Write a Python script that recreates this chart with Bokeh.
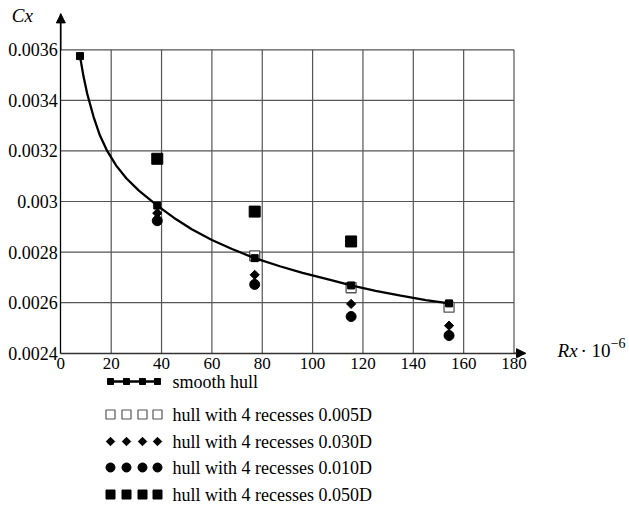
from bokeh.plotting import figure
from bokeh.models import (Range1d, FixedTicker, Arrow, NormalHead, Label,
                          LinearAxis)
from bokeh.embed import file_html
from bokeh.resources import INLINE
from bokeh.core.properties import value

# ---- data ----
x_ticks = [0, 20, 40, 60, 80, 100, 120, 140, 160, 180]
y_ticks = [0.0024, 0.0026, 0.0028, 0.003, 0.0032, 0.0034, 0.0036]
y_tick_labels = ["0.0024", "0.0026", "0.0028", "0.003", "0.0032", "0.0034", "0.0036"]

smooth_x = [7.6, 38.3, 77.0, 115.3, 154.2]
smooth_y = [0.003575, 0.002984, 0.002776, 0.002668, 0.002597]

curve_x = [7.6, 9, 10.5, 13, 15.5, 18.4, 22, 26, 31, 38.3, 45, 52, 60, 68, 77,
           87, 96, 107, 115.3, 125, 135, 145, 154.2]
curve_y = [0.003575, 0.003495, 0.003425, 0.003335, 0.003262, 0.0032, 0.003142,
           0.003092, 0.003043, 0.002984, 0.002935, 0.00289, 0.002848, 0.002812,
           0.002776, 0.002744, 0.002718, 0.00269, 0.002668, 0.002647, 0.002628,
           0.00261, 0.002597]

r005_x = [77.0, 115.3, 154.2]
r005_y = [0.002785, 0.002659, 0.002582]

r030_x = [38.3, 77.0, 115.3, 154.2]
r030_y = [0.002954, 0.00271, 0.002595, 0.002509]

r010_x = [38.3, 77.0, 115.3, 154.2]
r010_y = [0.002924, 0.002672, 0.002545, 0.00247]

r050_x = [38.3, 77.0, 115.3]
r050_y = [0.003169, 0.00296, 0.002842]

legend_labels = ["smooth hull",
                 "hull with 4 recesses 0.005D",
                 "hull with 4 recesses 0.030D",
                 "hull with 4 recesses 0.010D",
                 "hull with 4 recesses 0.050D"]

SERIF = "Liberation Serif"
GRID = "#555555"
X_MIN, X_MAX = 0, 180
Y_MIN, Y_MAX = 0.0024, 0.0036
X_ARROW, Y_ARROW = 184.6, 0.003742

# ---- figure: the frame covers the whole canvas, axes sit at fixed locations ----
p = figure(width=629, height=512, output_backend="svg", toolbar_location=None,
           x_range=Range1d(-23.97, 225.88), y_range=Range1d(0.00177, 0.003795),
           x_axis_type=None, y_axis_type=None, min_border=0)
p.outline_line_color = None
p.background_fill_color = "white"
p.border_fill_color = "white"
# pixel-like ranges for the legend block
p.extra_x_ranges = {"px": Range1d(0, 629)}
p.extra_y_ranges = {"py": Range1d(512, 0)}

# grid lines (limited to the plotting box)
gx = x_ticks[1:]
gy = y_ticks[1:]
p.segment(x0=gx, y0=[Y_MIN] * len(gx), x1=gx, y1=[Y_MAX] * len(gx),
          line_color=GRID, line_width=1.2)
p.segment(x0=[X_MIN] * len(gy), y0=gy, x1=[X_MAX] * len(gy), y1=gy,
          line_color=GRID, line_width=1.2)

# axes
yaxis = LinearAxis(fixed_location=X_MIN, bounds=(Y_MIN, Y_ARROW),
                   ticker=FixedTicker(ticks=y_ticks))
yaxis.major_label_overrides = {t: s for t, s in zip(y_ticks, y_tick_labels)}
xaxis = LinearAxis(fixed_location=Y_MIN, bounds=(X_MIN, X_ARROW),
                   ticker=FixedTicker(ticks=x_ticks))
for ax in (xaxis, yaxis):
    ax.major_tick_out = 0
    ax.major_tick_in = 0
    ax.minor_tick_out = 0
    ax.minor_tick_in = 0
    ax.axis_line_color = "black"
    ax.axis_line_width = 1.3
    ax.major_label_text_font = SERIF
    ax.major_label_text_color = "black"
xaxis.axis_line_color = "#333333"
xaxis.major_label_text_font_size = "17px"
yaxis.major_label_text_font_size = "18px"
xaxis.major_label_standoff = 5
yaxis.major_label_standoff = 3
p.add_layout(yaxis, "left")
p.add_layout(xaxis, "below")

# arrow heads
p.add_layout(Arrow(x_start=X_MIN, y_start=Y_MAX, x_end=X_MIN, y_end=Y_ARROW,
                   line_color="black", line_width=1.3,
                   end=NormalHead(size=9, fill_color="black", line_color="black")))
p.add_layout(Arrow(x_start=X_MAX, y_start=Y_MIN, x_end=X_ARROW, y_end=Y_MIN,
                   line_color="#333333", line_width=1.3,
                   end=NormalHead(size=9, fill_color="black", line_color="black")))

# data marks
p.scatter(r005_x, r005_y, marker="square", size=10, fill_color="white",
          line_color="#555555", line_width=1.3)
p.line(curve_x, curve_y, line_color="black", line_width=2.3)
p.scatter(smooth_x, smooth_y, marker="square", size=7, fill_color="black",
          line_color="black")
p.scatter(r030_x, r030_y, marker="square", angle=0.785398, size=6.5,
          fill_color="black", line_color="black")
p.scatter(r010_x, r010_y, marker="circle", size=10, fill_color="black",
          line_color="black")
p.scatter(r050_x, r050_y, marker="square", size=11, fill_color="black",
          line_color="black")

# axis titles
p.add_layout(Label(x=-15.3, y=0.003735, text="Cx", text_font=SERIF,
                   text_font_style="italic", text_font_size="19px",
                   text_align="center", text_baseline="middle", text_color="black"))
p.add_layout(Label(x=197.3, y=0.002411, text="Rx", text_font=SERIF,
                   text_font_style="italic", text_font_size="19px",
                   text_align="left", text_baseline="middle", text_color="black"))
p.add_layout(Label(x=206.4, y=0.002411, text="· 10", text_font=SERIF,
                   text_font_size="19px",
                   text_align="left", text_baseline="middle", text_color="black"))
p.add_layout(Label(x=218.4, y=0.002442, text="−6", text_font=SERIF,
                   text_font_size="14px",
                   text_align="left", text_baseline="middle", text_color="black"))

# ---- legend block (pixel-like ranges) ----
row_y = [381, 414, 441, 467, 494]
mark_x = [110, 126, 142, 157]
kw = dict(x_range_name="px", y_range_name="py")
p.line([mark_x[0] - 3, mark_x[-1] + 3], [row_y[0]] * 2, line_color="black",
       line_width=2.3, **kw)
p.scatter(mark_x, [row_y[0]] * 4, marker="square", size=6, fill_color="black",
          line_color="black", **kw)
p.scatter(mark_x, [row_y[1]] * 4, marker="square", size=9, fill_color="white",
          line_color="#555555", line_width=1.2, **kw)
p.scatter(mark_x, [row_y[2]] * 4, marker="square", angle=0.785398, size=6,
          fill_color="black", line_color="black", **kw)
p.scatter(mark_x, [row_y[3]] * 4, marker="circle", size=9, fill_color="black",
          line_color="black", **kw)
p.scatter(mark_x, [row_y[4]] * 4, marker="square", size=9, fill_color="black",
          line_color="black", **kw)
p.text(x=[172] * 5, y=row_y, text=legend_labels, text_font=value(SERIF),
       text_font_size="18px", text_align="left", text_baseline="middle",
       text_color="black", **kw)

open("out.html", "w").write(file_html(p, INLINE))
